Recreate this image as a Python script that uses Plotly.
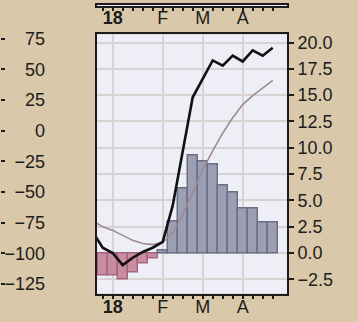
import plotly.graph_objects as go

W, H = 358, 322

# week index (0 = first week shown); the lines carry one earlier week
weeks = list(range(18))
line_weeks = [-1] + weeks

# weekly bars: negative weeks then positive weeks
neg_weeks = weeks[:6]
neg_vals = [-2.1, -2.1, -2.55, -1.85, -1.0, -0.5]
pos_weeks = weeks[6:]
pos_vals = [0.25, 3.0, 6.1, 9.25, 8.7, 8.45, 6.45, 5.75, 4.2, 4.2, 2.95, 2.95]

# cumulative series
bold_line = [2.0, 0.5, 0.0, -1.15, -0.45, 0.1, 0.5, 1.05, 4.5, 9.8, 14.8, 16.55,
             18.3, 17.8, 18.75, 18.2, 19.25, 18.75, 19.5]
thin_line = [3.05, 2.5, 2.15, 1.65, 1.2, 0.9, 0.8, 1.0, 1.9, 3.6, 5.7, 7.9,
             9.7, 11.4, 12.85, 14.1, 14.95, 15.7, 16.4]

month_ticks = [1, 6, 10, 14]
month_text = ["<b>18</b>", "F", "M", "A"]
right_ticks = [-2.5, 0.0, 2.5, 5.0, 7.5, 10.0, 12.5, 15.0, 17.5, 20.0]
left_ticks = [-125, -100, -75, -50, -25, 0, 25, 50, 75]

BG = "#D9C8A9"
PLOT_BG = "#EEEEF7"
GRID = "#D8D3D3"
INK = "#1c1c1c"
FONT = dict(family="Liberation Sans, Arial, sans-serif", size=18, color=INK)

x_dom = [97 / W, 287 / W]
y_dom = [1 - 294 / H, 1 - 30 / H]
x_range = [-0.57, 18.43]

fig = go.Figure()

fig.add_trace(go.Bar(
    x=neg_weeks, y=neg_vals, width=1,
    marker=dict(color="#C98DA1", line=dict(color="#A5667F", width=1.5)),
    showlegend=False, hoverinfo="skip"))
fig.add_trace(go.Bar(
    x=pos_weeks, y=pos_vals, width=1,
    marker=dict(color="#9C9EB4", line=dict(color="#6C6E82", width=1.5)),
    showlegend=False, hoverinfo="skip"))

fig.add_trace(go.Scatter(
    x=line_weeks, y=thin_line, mode="lines",
    line=dict(color="#A08A8C", width=1.6),
    showlegend=False, hoverinfo="skip", cliponaxis=True))
fig.add_trace(go.Scatter(
    x=line_weeks, y=bold_line, mode="lines",
    line=dict(color="#111111", width=2.6),
    showlegend=False, hoverinfo="skip", cliponaxis=True))

# placeholders so the extra axes get drawn
fig.add_trace(go.Scatter(x=[None], y=[None], xaxis="x2", yaxis="y2",
                         showlegend=False, hoverinfo="skip"))
fig.add_trace(go.Scatter(x=[None], y=[None], xaxis="x", yaxis="y3",
                         showlegend=False, hoverinfo="skip"))
fig.add_trace(go.Scatter(x=[None], y=[None], xaxis="x", yaxis="y4",
                         showlegend=False, hoverinfo="skip"))


def month_axis(standoff):
    return dict(
        range=x_range, tickmode="array", tickvals=month_ticks, ticktext=month_text,
        ticks="outside", ticklen=3, tickwidth=2, tickcolor=INK,
        minor=dict(tickmode="array", tickvals=weeks, ticks="outside",
                   ticklen=3, tickwidth=2, tickcolor=INK, showgrid=False),
        showline=True, mirror=True, linecolor=INK, linewidth=2,
        tickfont=FONT, zeroline=False, fixedrange=True,
        ticklabelstandoff=standoff,
    )


fig.update_layout(
    width=W, height=H, autosize=False,
    margin=dict(l=0, r=0, t=0, b=0),
    paper_bgcolor=BG, plot_bgcolor=PLOT_BG,
    barmode="overlay", bargap=0,
    xaxis=dict(domain=x_dom, anchor="y", showgrid=True, gridcolor=GRID,
               gridwidth=1.5, **month_axis(-7)),
    yaxis=dict(domain=y_dom, anchor="x", side="right", range=[-3.85, 20.77],
               tickmode="array", tickvals=right_ticks, tickformat=".1f",
               ticks="outside", ticklen=5, tickwidth=1.5, tickcolor=INK,
               showgrid=True, gridcolor=GRID, gridwidth=1.5, zeroline=False,
               showline=True, mirror=True, linecolor=INK, linewidth=2,
               tickfont=FONT, fixedrange=True),
    xaxis2=dict(domain=x_dom, anchor="y2", showgrid=False, **month_axis(-9)),
    yaxis2=dict(domain=[1 - 1 / H, 1], anchor="x2", range=[0, 1],
                showticklabels=False, ticks="", showgrid=False, zeroline=False,
                showline=True, mirror=True, linecolor=INK, linewidth=2),
    yaxis3=dict(overlaying="y", anchor="free", position=45 / W, side="left",
                range=[-132.8, 78.4], tickmode="array", tickvals=left_ticks,
                ticks="", showgrid=False, zeroline=False, showline=False,
                tickfont=FONT, fixedrange=True),
    yaxis4=dict(overlaying="y", anchor="free", position=0, side="right",
                range=[-132.8, 78.4], tickmode="array", tickvals=left_ticks,
                ticks="outside", ticklen=4, tickwidth=1.5, tickcolor=INK,
                showticklabels=False, showgrid=False, zeroline=False,
                showline=False, fixedrange=True),
)

fig.write_html("out.html")
